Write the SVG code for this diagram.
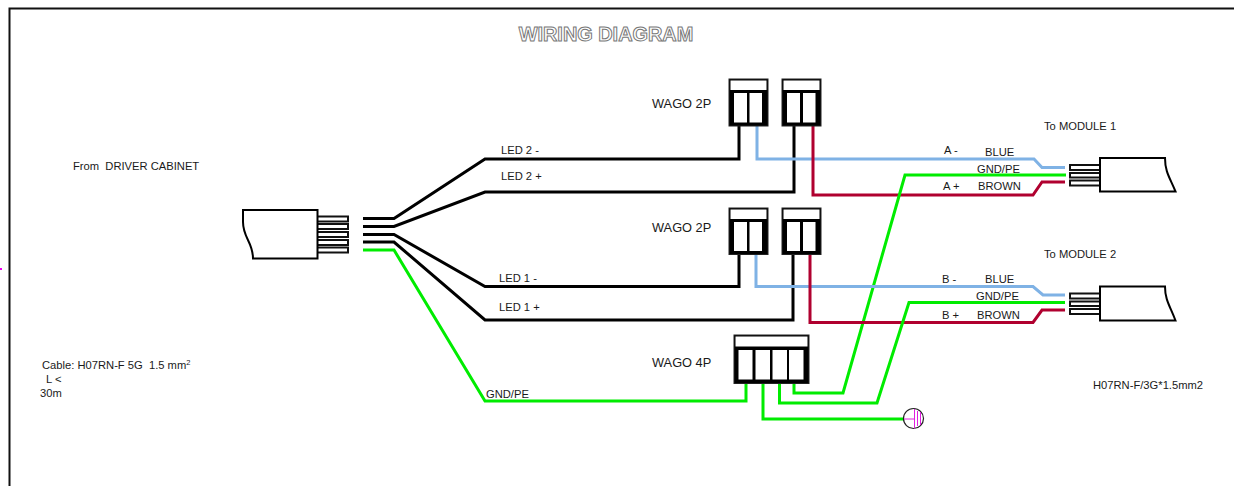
<svg xmlns="http://www.w3.org/2000/svg" width="1234" height="486" viewBox="0 0 1234 486">
<style>
text{font-family:"Liberation Sans",Arial,sans-serif;font-size:11.2px;fill:#1a1a1a;white-space:pre}
.w13{font-size:12.8px}
.title{font-size:19.900px;font-weight:bold;fill:#fff;stroke:#777;stroke-width:1px}
.wire{fill:none;stroke-width:3px;stroke-linejoin:miter}
.k{stroke:#000}.g{stroke:#00ec00}.b{stroke:#7fb2e5}.r{stroke:#b0002f}
.pin{fill:#fff;stroke:#111;stroke-width:2px}
.body{fill:#fff;stroke:#000;stroke-width:2px}
.case{fill:#000;stroke:#222;stroke-width:1px}
.head{fill:#fff}
.cell{fill:#fff}
.m{stroke:#e020e0;stroke-width:1px;fill:none}
</style>
<rect width="1234" height="486" fill="#fff"/>
<path d="M9.500 486V8.500H1234" fill="none" stroke="#111" stroke-width="2"/>
<rect x="0" y="268" width="2" height="2" fill="#f000f0"/>
<text x="606" y="41" text-anchor="middle" class="title">WIRING DIAGRAM</text>

<g id="connectors">
<path class="wire k" d="M363 218.500H394L485 159H739V126"/>
<path class="wire k" d="M363 226.500H394L485 192H794V126"/>
<path class="wire k" d="M363 234.500H394L485 286.500H739V254"/>
<path class="wire k" d="M363 242H394L485 320H793V254"/>
<path class="wire g" d="M363 250H394L485 401H746V383"/>
<path class="wire b" d="M757 126V159H1034L1042 167.500H1065"/>
<path class="wire r" d="M813 126V195H1033L1042 182H1065"/>
<path class="wire g" d="M794 383V393H843L905 175H1066"/>
<path class="wire b" d="M756 254V286.500H1033L1043 295H1065"/>
<path class="wire r" d="M810 254V322.500H1033L1042 310H1065"/>
<path class="wire g" d="M779.500 383V403H877L909 302.500H1065"/>
<path class="wire g" d="M763 383V419H904"/>
</g>

<g id="cable-driver">
<rect class="pin" x="317" y="216.500" width="31" height="5"/>
<rect class="pin" x="317" y="224" width="31" height="5"/>
<rect class="pin" x="317" y="232" width="31" height="5"/>
<rect class="pin" x="317" y="240" width="31" height="5"/>
<rect class="pin" x="317" y="247.500" width="31" height="5"/>
<path class="body" d="M243 210H317.500V258.500H253C253 242 243 238 243 222Z"/>
</g>

<g id="module-1">
<rect class="pin" x="1070" y="165" width="30" height="5"/>
<rect class="pin" x="1070" y="173" width="30" height="4.500"/>
<rect class="pin" x="1070" y="180.500" width="30" height="5"/>
<path class="body" d="M1100 158H1165C1165 172 1170 178 1175.500 191.500H1100Z"/>
</g>
<g id="module-2">
<rect class="pin" x="1070" y="293.500" width="30" height="5"/>
<rect class="pin" x="1070" y="301.500" width="30" height="4.500"/>
<rect class="pin" x="1070" y="309" width="30" height="5"/>
<path class="body" d="M1100 286.500H1165C1165 300 1170 306 1175.500 320.500H1100Z"/>
</g>

<g id="wago-2p-top-left">
<rect class="case" x="729" y="79" width="39" height="47"/>
<rect class="head" x="730.500" y="80.500" width="36" height="9.500"/>
<rect class="cell" x="734" y="93" width="13" height="29.500"/>
<rect class="cell" x="749.500" y="93" width="12.500" height="29.500"/>
</g>
<g id="wago-2p-top-right">
<rect class="case" x="782" y="79" width="39" height="47"/>
<rect class="head" x="783.500" y="80.500" width="36" height="9.500"/>
<rect class="cell" x="787" y="93" width="13" height="29.500"/>
<rect class="cell" x="803" y="93" width="12.500" height="29.500"/>
</g>
<g id="wago-2p-mid-left">
<rect class="case" x="729" y="208" width="39" height="46.500"/>
<rect class="head" x="730.500" y="209.500" width="36" height="9.500"/>
<rect class="cell" x="734" y="222" width="13" height="29"/>
<rect class="cell" x="749.500" y="222" width="12.500" height="29"/>
</g>
<g id="wago-2p-mid-right">
<rect class="case" x="782" y="208" width="39" height="46.500"/>
<rect class="head" x="783.500" y="209.500" width="36" height="9.500"/>
<rect class="cell" x="787" y="222" width="13" height="29"/>
<rect class="cell" x="803" y="222" width="12.500" height="29"/>
</g>
<g id="wago-4p">
<rect class="case" x="734" y="335" width="75" height="48.500"/>
<rect class="head" x="735.500" y="336.500" width="72" height="10"/>
<rect class="cell" x="738.500" y="350" width="14" height="29.500"/>
<rect class="cell" x="755.500" y="350" width="14.500" height="29.500"/>
<rect class="cell" x="772.500" y="350" width="14.500" height="29.500"/>
<rect class="cell" x="789" y="350" width="14.500" height="29.500"/>
</g>
<g id="ground">
<circle cx="913.500" cy="418.500" r="10" fill="#fff" stroke="#222" stroke-width="1.200"/>
<path class="m" d="M904 419H914M914.500 409V428.500M917.500 411V426M920.500 412V425"/>
</g>

<g id="labels">
<text x="73" y="170">From  DRIVER CABINET</text>
<text x="501" y="154">LED 2 -</text>
<text x="501" y="180">LED 2 +</text>
<text x="499" y="282">LED 1 -</text>
<text x="499" y="311">LED 1 +</text>
<text x="486" y="398">GND/PE</text>
<text x="652" y="108" class="w13">WAGO 2P</text>
<text x="652" y="232" class="w13">WAGO 2P</text>
<text x="652" y="367" class="w13">WAGO 4P</text>
<text x="1044" y="130">To MODULE 1</text>
<text x="1044" y="258">To MODULE 2</text>
<text x="944" y="154">A -</text>
<text x="985" y="156">BLUE</text>
<text x="977" y="173">GND/PE</text>
<text x="943" y="190">A +</text>
<text x="978" y="190">BROWN</text>
<text x="942" y="283">B -</text>
<text x="985" y="283">BLUE</text>
<text x="976" y="300">GND/PE</text>
<text x="942" y="319">B +</text>
<text x="977" y="319">BROWN</text>
<text x="42" y="369">Cable: H07RN-F 5G  1.5 mm<tspan font-size="7.500" dy="-4">2</tspan></text>
<text x="46" y="383">L &lt;</text>
<text x="40" y="397">30m</text>
<text x="1093" y="389">H07RN-F/3G*1.5mm2</text>
</g>
</svg>
